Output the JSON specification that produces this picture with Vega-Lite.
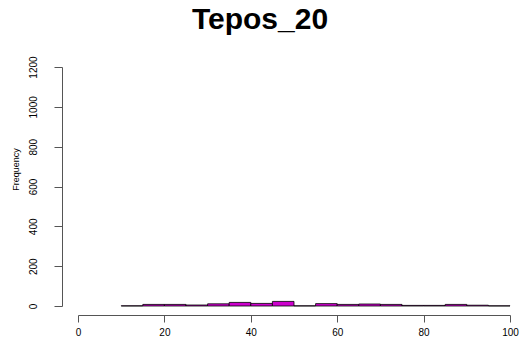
{
  "$schema": "https://vega.github.io/schema/vega-lite/v6.json",
  "width": 432,
  "height": 239,
  "autosize": "none",
  "padding": {"left": 78, "top": 67, "right": 11, "bottom": 39},
  "background": "white",
  "title": {
    "text": "Tepos_20",
    "font": "Liberation Sans",
    "fontSize": 30,
    "fontWeight": "bold",
    "color": "black",
    "anchor": "middle",
    "dx": -34,
    "baseline": "alphabetic",
    "offset": -3
  },
  "config": {
    "view": {"stroke": null},
    "axis": {"grid": false, "labelFont": "Liberation Sans", "titleFont": "Liberation Sans", "labelColor": "black", "titleColor": "black", "domainColor": "#555", "tickColor": "#555"}
  },
  "data": {
    "values": [
      {"start": 10, "end": 15, "count": 1},
      {"start": 15, "end": 20, "count": 8},
      {"start": 20, "end": 25, "count": 8},
      {"start": 25, "end": 30, "count": 5},
      {"start": 30, "end": 35, "count": 11},
      {"start": 35, "end": 40, "count": 18},
      {"start": 40, "end": 45, "count": 13},
      {"start": 45, "end": 50, "count": 23},
      {"start": 50, "end": 55, "count": 1},
      {"start": 55, "end": 60, "count": 12},
      {"start": 60, "end": 65, "count": 8},
      {"start": 65, "end": 70, "count": 10},
      {"start": 70, "end": 75, "count": 8},
      {"start": 75, "end": 80, "count": 3},
      {"start": 80, "end": 85, "count": 3},
      {"start": 85, "end": 90, "count": 8},
      {"start": 90, "end": 95, "count": 4},
      {"start": 95, "end": 100, "count": 1}
    ]
  },
  "mark": {"type": "bar", "fill": "#CD00CD", "stroke": "black", "strokeWidth": 0.8, "orient": "vertical"},
  "encoding": {
    "x": {
      "field": "start",
      "type": "quantitative",
      "scale": {"domain": [0, 100], "nice": false, "zero": false, "padding": 0},
      "axis": {
        "values": [0, 20, 40, 60, 80, 100],
        "title": null,
        "offset": 9,
        "tickSize": 7,
        "labelPadding": 5,
        "labelFontSize": 10,
        "labelFlush": false
      }
    },
    "x2": {"field": "end"},
    "y": {
      "field": "count",
      "type": "quantitative",
      "scale": {"domain": [0, 1200], "nice": false, "padding": 0},
      "axis": {
        "values": [0, 200, 400, 600, 800, 1000, 1200],
        "format": "d",
        "title": "Frequency",
        "titleFontSize": 9,
        "titleFontWeight": "normal",
        "titleAngle": -90,
        "titleBaseline": "alphabetic",
        "titleX": -44,
        "titleY": 102,
        "titleAlign": "center",
        "offset": 16,
        "tickSize": 8,
        "labelAngle": -90,
        "labelAlign": "center",
        "labelBaseline": "alphabetic",
        "labelPadding": 18,
        "labelFontSize": 10,
        "labelFlush": false
      }
    },
    "y2": {"datum": 0}
  }
}
